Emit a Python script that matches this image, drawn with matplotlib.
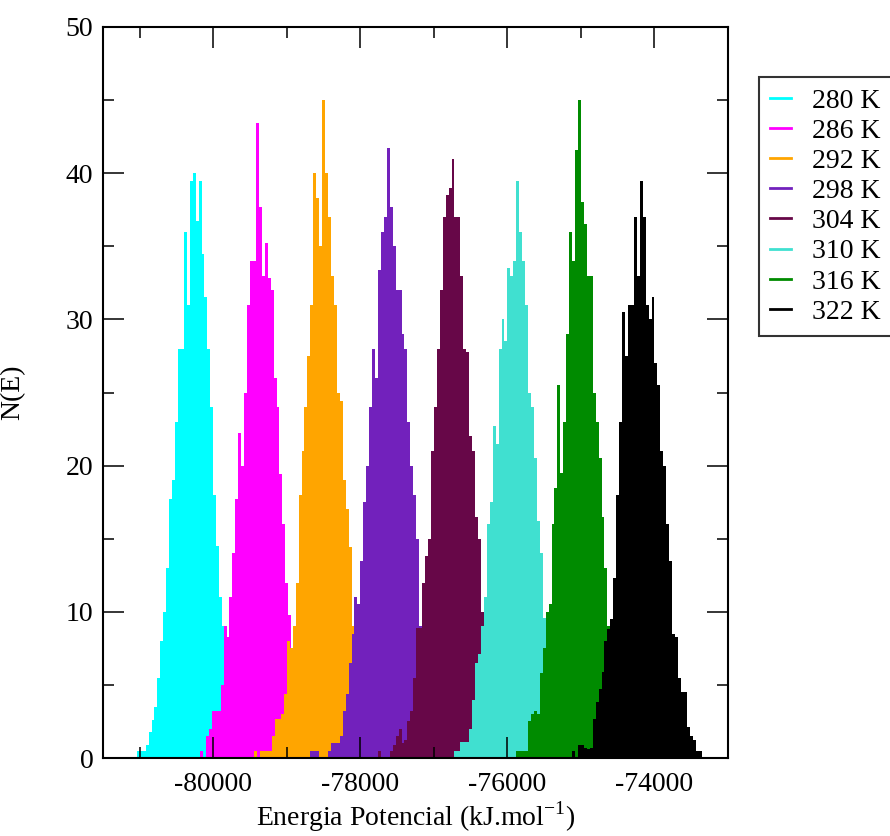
import numpy as np
import matplotlib
matplotlib.use('Agg')
import matplotlib.pyplot as plt
import matplotlib as mpl
from matplotlib.lines import Line2D

mpl.rcParams['font.family'] = ['Liberation Serif', 'DejaVu Serif']
mpl.rcParams['mathtext.fontset'] = 'custom'
mpl.rcParams['mathtext.rm'] = 'Liberation Serif'
mpl.rcParams['axes.linewidth'] = 1.5
mpl.rcParams['axes.unicode_minus'] = False

# histogram data (bin width 40 kJ/mol, start = left edge of first bin)
bin_width = 40
labels = ['280 K', '286 K', '292 K', '298 K', '304 K', '310 K', '316 K', '322 K']
colors = ['#00ffff', '#ff00ff', '#ffa500', '#7221bc', '#670748', '#40e0d0', '#008b00', '#000000']
starts = [-81040, -80180, -79440, -78680, -77760, -76720, -75880, -75120]

n_280 = [0.5, 0.5, 0.5, 0.9, 1.8, 2.6, 3.5, 5.5, 8, 10, 13, 17.7, 19, 23, 28, 28, 36, 31,
         39.5, 40, 36.7, 39.5, 34.5, 31.5, 28, 24, 18, 14.5, 11, 9, 6, 3, 1.5, 0.5]
n_286 = [0.5, 0, 1.5, 2, 3.2, 3.2, 3.2, 5, 9, 8.3, 11, 14, 17.7, 22.2, 20, 25, 31, 34, 34,
         43.4, 37.7, 33, 35.2, 32.8, 32, 26, 24, 19.4, 16, 12, 9.8, 7, 5, 3.5, 1.5, 0.5]
n_292 = [0.5, 0, 0.5, 0.5, 0.5, 0.5, 1.5, 2.7, 2.7, 3, 4.4, 8, 7.5, 9, 12, 18, 21, 24, 27.5,
         31, 40, 38.3, 35, 45, 40, 37, 33, 31, 25, 24.4, 19, 17, 14.4, 9, 6, 4, 2.5, 1.2, 0.5]
n_298 = [0.5, 0.5, 0.5, 0, 0, 0, 0.5, 1, 1, 1, 1.5, 3.2, 4.4, 6.5, 8.5, 11, 10.5, 13.5, 17.5,
         20, 24, 28, 26, 33.4, 36, 37, 41.7, 37.7, 35, 32, 32, 29, 28, 23, 20, 18, 15, 9, 6,
         4, 2.5, 1.5, 0.5]
n_304 = [0.5, 0, 0, 0, 0.5, 0.9, 1.5, 2, 1, 1.2, 2.5, 3.2, 5.5, 8.9, 8.9, 12, 13.8, 15, 21,
         24, 28, 32, 37, 38.5, 39, 41, 37, 37, 33, 28, 27.8, 22, 21, 16.5, 15, 10, 8, 5.5,
         3.5, 2, 1, 0.5]
n_310 = [0.5, 0.5, 1.1, 1.1, 1.1, 2, 4, 6.5, 7.1, 9, 11, 16, 17.5, 22.7, 21.5, 28, 30, 28.5,
         33.5, 33, 34, 39.5, 36, 34, 31, 25, 24, 20.5, 16.2, 14, 9.6, 6, 6, 4, 2.5, 1.2, 0.5]
n_316 = [0.5, 0.5, 0.5, 0.5, 2.5, 3, 3.2, 3, 5.8, 7.5, 10, 10.5, 16, 18.5, 25.5, 19.5, 23,
         29, 36, 34, 41.6, 45, 38, 36.5, 33, 33, 25, 23, 20.5, 16.5, 13, 9, 6.5, 4, 3, 2, 1, 0.5]
n_322 = [0.5, 0, 0.9, 0.9, 0.7, 0.6, 0.7, 2.7, 3.8, 4.7, 5.9, 8, 8.8, 9.5, 12.3, 18, 23,
         30.5, 27.5, 31, 31, 37, 33, 39.5, 37, 31, 30, 31.5, 27, 25.5, 21, 20, 16, 13.5, 8.5,
         8.3, 5.5, 4.5, 4.5, 2.1, 1.5, 1.2, 0.5, 0.5]
counts = [n_280, n_286, n_292, n_298, n_304, n_310, n_316, n_322]

fig = plt.figure(figsize=(8.9, 8.36), dpi=100)
ax = fig.add_axes([103/890, 1-758/836, 625/890, 731/836])

for c, s, col in zip(counts, starts, colors):
    edges = s + bin_width*np.arange(len(c)+1)
    ax.stairs(c, edges, fill=True, color=col, linewidth=0)

ax.set_xlim(-81500, -73000)
ax.set_ylim(0, 50)
ax.set_xticks([-80000, -78000, -76000, -74000])
ax.set_xticks(np.arange(-81000, -73000, 1000), minor=True)
ax.set_yticks(np.arange(0, 51, 10))
ax.set_yticks(np.arange(5, 50, 10), minor=True)
ax.tick_params(which='both', direction='in', top=True, right=True, labelsize=20, width=1.1)
ax.tick_params(which='major', length=15)
ax.tick_params(which='minor', length=8)
ax.tick_params(axis='x', pad=10)
ax.tick_params(axis='y', pad=7)

ax.set_xlabel(r'Energia Potencial (kJ.mol$^{\mathregular{-1}}$)', fontsize=20, labelpad=2)
ax.set_ylabel('N(E)', fontsize=20)
ax.yaxis.set_label_coords(-0.125, 0.5)

handles = [Line2D([], [], color=col, lw=2) for col in colors]
leg = fig.legend(handles, labels, loc='upper left', bbox_to_anchor=(759/890, 1-77/836),
                 bbox_transform=fig.transFigure, fontsize=20, frameon=True, fancybox=False,
                 handlelength=0.75, handletextpad=0.75, labelspacing=0.17, borderpad=0.4,
                 borderaxespad=0)
leg.get_frame().set_edgecolor('black')
leg.get_frame().set_linewidth(1.5)

fig.savefig('out.png', dpi=100)
